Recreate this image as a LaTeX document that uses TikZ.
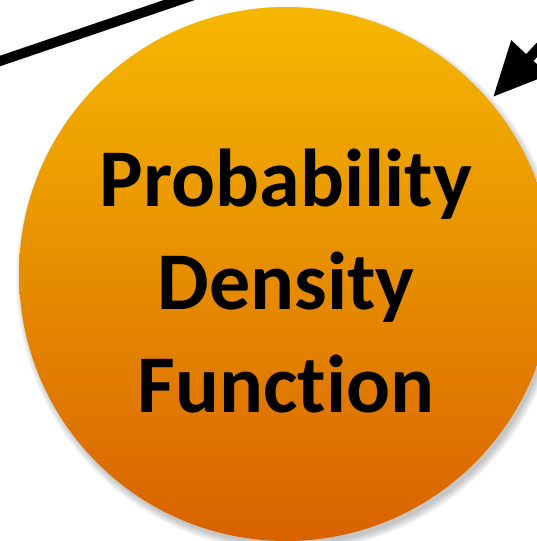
\documentclass[tikz,border=0pt]{standalone}
\usepackage{fontspec}
\newfontfamily\calib[Ligatures={NoCommon}]{Carlito}
\usetikzlibrary{arrows.meta}
\definecolor{topc}{RGB}{245,184,0}
\definecolor{botc}{RGB}{216,98,0}
\tikzset{
  conn/.style={black, line width=10pt},
  bubble/.style={circle, minimum size=534pt, inner sep=0pt, top color=topc, bottom color=botc, draw=none},
  bigtext/.style={font=\calib\bfseries\fontsize{82}{103}\selectfont, align=center, text=black}
}
\begin{document}
\begin{tikzpicture}[x=1pt,y=-1pt]
\useasboundingbox (0,0) rectangle (537,541);
\clip (0,0) rectangle (537,541);
% soft shadow
\foreach \k in {0,...,7}{
  \fill[black, opacity=0.03] (289,279) circle ({266pt+\k pt});
}
\node[bubble] (pdf) at (286,274) {};
\node[bigtext, anchor=base] (lbl) at (286,412) {Probability\\Density\\Function};
% connectors
\coordinate (l0) at (-20,67.8);
\coordinate (l1) at (220,-13.8);
\draw[conn] (l0) -- (l1);
\coordinate (a0) at (590,-7);
\coordinate (atip) at (493,97);
\draw[conn, -{Triangle[length=54pt,width=48pt]}] (a0) -- (atip);
\end{tikzpicture}
\end{document}
